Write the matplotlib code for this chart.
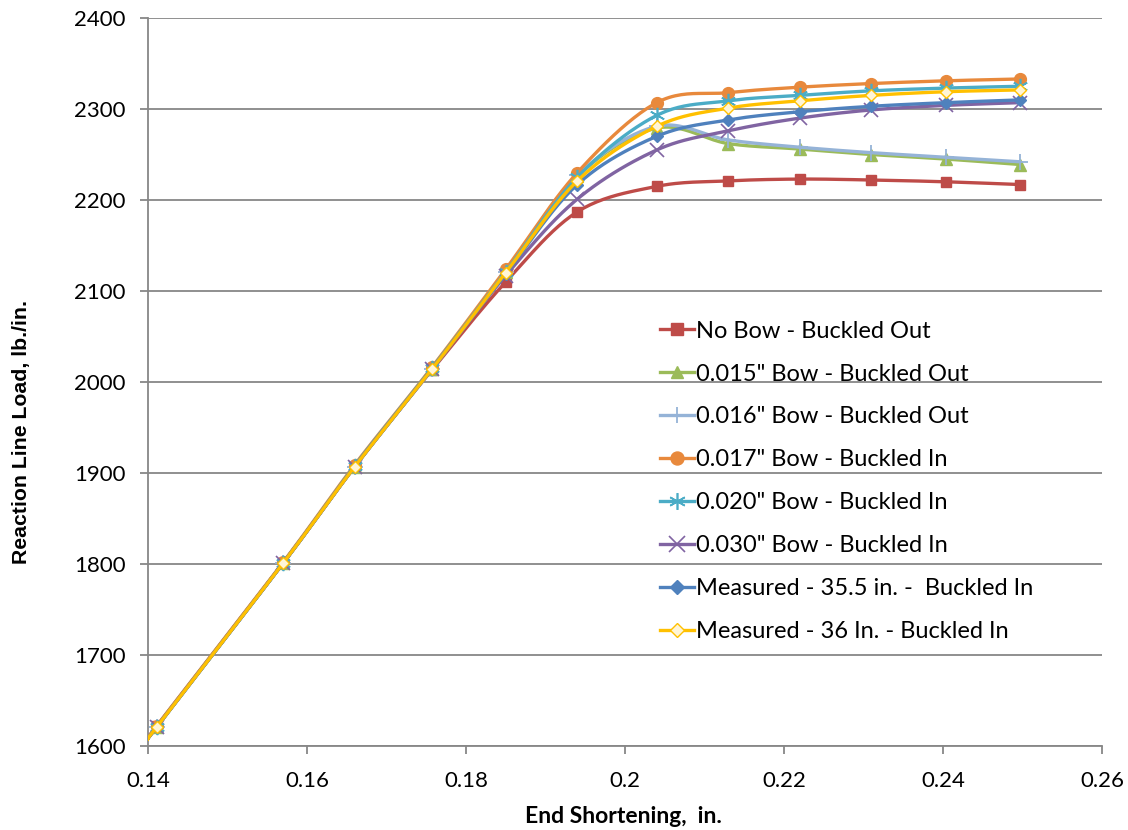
import numpy as np
import matplotlib
matplotlib.use('Agg')
from matplotlib import pyplot as plt
from matplotlib.lines import Line2D

plt.rcParams['font.family'] = ['Lato', 'DejaVu Sans']

# end shortening (in.) - first point has no marker, the line just starts at the axis
shortening = [0.14, 0.1411, 0.157, 0.166, 0.1757, 0.185, 0.194, 0.204, 0.213, 0.222, 0.231, 0.2404, 0.2497]

noBow = [1608, 1622, 1801, 1907, 2013, 2110, 2187, 2215, 2221, 2223, 2222, 2220, 2217]
bow015 = [1608, 1621, 1801, 1907, 2014, 2121, 2226, 2279, 2262, 2256, 2250, 2245, 2239]
bow016 = [1608, 1621, 1801, 1907, 2014, 2121, 2227, 2281, 2266, 2258, 2252, 2247, 2242]
bow017 = [1608, 1622, 1802, 1909, 2016, 2124, 2230, 2307, 2318, 2324, 2328, 2331, 2333]
bow020 = [1608, 1621, 1801, 1908, 2015, 2121, 2225, 2293, 2309, 2315, 2320, 2323, 2325]
bow030 = [1608, 1621, 1801, 1907, 2014, 2117, 2201, 2255, 2276, 2290, 2299, 2304, 2307]
measured355 = [1608, 1621, 1801, 1907, 2014, 2119, 2217, 2270, 2288, 2297, 2303, 2307, 2310]
measured36 = [1608, 1621, 1801, 1907, 2014, 2120, 2221, 2281, 2301, 2309, 2315, 2319, 2321]

labels = ['No Bow - Buckled Out',
          '0.015" Bow - Buckled Out',
          '0.016" Bow - Buckled Out',
          '0.017" Bow - Buckled In',
          '0.020" Bow - Buckled In',
          '0.030" Bow - Buckled In',
          'Measured - 35.5 in. -  Buckled In',
          'Measured - 36 In. - Buckled In']

xTicks = [0.14, 0.16, 0.18, 0.2, 0.22, 0.24, 0.26]
xTickLabels = ['0.14', '0.16', '0.18', '0.2', '0.22', '0.24', '0.26']
yTicks = [1600, 1700, 1800, 1900, 2000, 2100, 2200, 2300, 2400]

# marker styles per series (Excel 2010 defaults)
STYLES = [
    dict(color='#BE4B48', marker='s', ms=7.5, mfc='#BE4B48', mec='#BE4B48', mew=1),
    dict(color='#9BBB59', marker='^', ms=8, mfc='#9BBB59', mec='#9BBB59', mew=1),
    dict(color='#95B3D7', marker='+', ms=11, mfc='#95B3D7', mec='#95B3D7', mew=1.3),
    dict(color='#E8893C', marker='o', ms=8.5, mfc='#E8893C', mec='#E8893C', mew=1),
    dict(color='#4BACC6', marker=(6, 2, 0), ms=11, mfc='#4BACC6', mec='#4BACC6', mew=1.2),
    dict(color='#8064A2', marker='x', ms=10, mfc='#8064A2', mec='#8064A2', mew=1.2),
    dict(color='#4F81BD', marker='D', ms=6.5, mfc='#4F81BD', mec='#4F81BD', mew=1),
    dict(color='#FFC000', marker='D', ms=6.5, mfc='#FFF5D6', mec='#FFC000', mew=1),
]


def smooth(x, y, n=25):
    # excel-like smoothed line: cubic bezier, control points from neighbours / 6
    pts = np.column_stack([x, y]).astype(float)
    out = [pts[0]]
    t = np.linspace(0, 1, n)[1:, None]
    for i in range(len(pts) - 1):
        p0 = pts[i - 1] if i > 0 else pts[i]
        p1 = pts[i]
        p2 = pts[i + 1]
        p3 = pts[i + 2] if i + 2 < len(pts) else pts[i + 1]
        c1 = p1 + (p2 - p0) / 6
        c2 = p2 - (p3 - p1) / 6
        seg = (1 - t) ** 3 * p1 + 3 * (1 - t) ** 2 * t * c1 + 3 * (1 - t) * t ** 2 * c2 + t ** 3 * p2
        out.extend(seg)
    out = np.array(out)
    return out[:, 0], out[:, 1]


fig = plt.figure(figsize=(11.28, 8.30), dpi=100)
ax = fig.add_axes([0.1312, 0.1012, 0.8457, 0.8771])

allSeries = [noBow, bow015, bow016, bow017, bow020, bow030, measured355, measured36]
handles = []
for i, series in enumerate(allSeries):
    st = STYLES[i]
    sx, sy = smooth(shortening, series)
    ax.plot(sx, sy, color=st['color'], lw=2.4, zorder=3 + i, solid_capstyle='round')
    ax.plot(shortening[1:], series[1:], linestyle='none', marker=st['marker'], ms=st['ms'],
            mfc=st['mfc'], mec=st['mec'], mew=st['mew'], zorder=3 + i, clip_on=False)
    handles.append(Line2D([], [], color=st['color'], lw=2.4, marker=st['marker'], ms=st['ms'] * 1.1,
                          mfc=st['mfc'], mec=st['mec'], mew=st['mew']))

ax.set_xlim(0.14, 0.26)
ax.set_ylim(1600, 2400)
ax.set_xticks(xTicks)
ax.set_xticklabels(xTickLabels)
ax.set_yticks(yTicks)

ax.grid(axis='y', color='#878787', lw=1.3)
ax.set_axisbelow(True)
for side in ['top', 'right']:
    ax.spines[side].set_visible(False)
for side in ['left', 'bottom']:
    ax.spines[side].set_color('#878787')
    ax.spines[side].set_linewidth(1.3)
ax.tick_params(direction='out', length=6, width=1.3, color='#878787', labelsize=16, labelcolor='black')
ax.tick_params(axis='y', pad=10)
ax.tick_params(axis='x', pad=12)

# axis titles placed where excel put them (y title sits below the middle)
fig.text(623 / 1128, 1 - 816 / 830, 'End Shortening,  in.', fontsize=16.5, fontweight='bold',
         ha='center', va='center')
fig.text(22 / 1128, 1 - 432 / 830, 'Reaction Line Load, lb./in.', fontsize=15.3, fontweight='bold',
         family=['Liberation Sans', 'DejaVu Sans'], rotation=90, ha='center', va='center')

fig.legend(handles, labels, loc='upper left', bbox_to_anchor=(0.5745, 0.628), frameon=False,
           fontsize=17, handlelength=1.45, handletextpad=0.08, labelspacing=0.93, borderpad=0)

fig.savefig('out.png', dpi=100, facecolor='white')
